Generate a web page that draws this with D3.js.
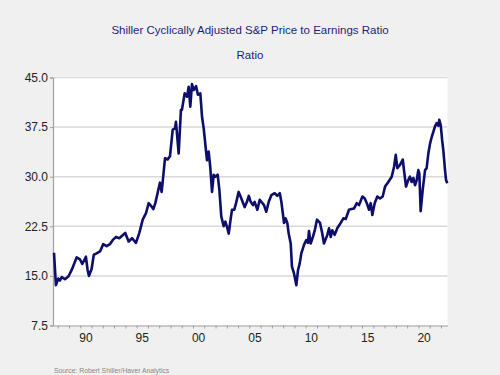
<!DOCTYPE html>
<html><head><meta charset="utf-8">
<script src="https://cdn.jsdelivr.net/npm/d3@7"></script>
<style>body{margin:0;background:#f0f0f0;}svg{display:block;font-family:"Liberation Sans",Arial,sans-serif;}</style>
</head><body><svg id="c" width="500" height="375"></svg>
<script>
const years = [1987.67,1987.84,1988.05,1988.2,1988.35,1988.64,1988.94,1989.24,1989.68,1989.97,1990.18,1990.5,1990.65,1990.77,1991.0,1991.2,1991.45,1991.75,1992.04,1992.34,1992.63,1992.87,1993.17,1993.46,1993.99,1994.29,1994.59,1994.94,1995.24,1995.54,1995.83,1996.07,1996.27,1996.48,1996.66,1996.87,1997.07,1997.22,1997.52,1997.75,1997.96,1998.2,1998.4,1998.49,1998.73,1998.93,1999.02,1999.26,1999.47,1999.62,1999.76,1999.91,2000.06,2000.27,2000.44,2000.65,2000.8,2000.95,2001.15,2001.24,2001.39,2001.53,2001.69,2001.84,2001.98,2002.19,2002.34,2002.51,2002.72,2002.87,2003.02,2003.17,2003.31,2003.46,2003.66,2003.82,2004.05,2004.29,2004.58,2004.79,2004.95,2005.12,2005.32,2005.47,2005.71,2005.92,2006.12,2006.3,2006.5,2006.72,2006.95,2007.25,2007.48,2007.7,2007.84,2008.08,2008.22,2008.37,2008.49,2008.67,2008.78,2008.96,2009.17,2009.32,2009.47,2009.61,2009.85,2010.05,2010.2,2010.29,2010.44,2010.64,2010.82,2011.0,2011.27,2011.47,2011.62,2011.92,2012.07,2012.22,2012.36,2012.57,2012.8,2013.1,2013.34,2013.55,2013.84,2014.05,2014.29,2014.53,2014.73,2015.03,2015.24,2015.42,2015.62,2015.77,2015.91,2016.12,2016.35,2016.59,2016.83,2017.04,2017.33,2017.63,2017.84,2017.99,2018.13,2018.37,2018.61,2018.72,2018.9,2019.1,2019.25,2019.4,2019.55,2019.7,2019.85,2019.99,2020.08,2020.2,2020.38,2020.59,2020.73,2020.88,2021.03,2021.18,2021.33,2021.47,2021.62,2021.77,2021.85,2021.98,2022.1,2022.21,2022.36,2022.45,2022.56];
const cape = [18.5,13.6,14.6,14.3,14.8,14.5,14.9,15.9,17.8,17.5,16.8,17.9,15.9,15.0,16.0,18.2,18.4,18.7,19.8,19.5,19.8,20.4,20.9,20.7,21.5,20.2,20.7,20.0,21.5,23.5,24.5,26.0,25.6,25.1,26.0,27.6,29.1,27.7,32.8,32.6,33.1,37.1,37.3,38.3,33.5,40.1,40.1,42.6,42.1,43.6,40.6,44.0,43.1,43.7,42.4,42.6,39.1,37.3,34.0,32.5,33.8,31.5,27.7,30.3,30.0,30.3,28.0,24.0,22.5,23.2,22.4,21.4,23.2,25.0,25.0,26.0,27.7,26.7,25.4,26.2,27.1,26.2,25.7,26.2,25.0,26.5,26.1,25.7,24.7,26.2,27.2,27.5,27.1,27.5,26.2,23.0,23.7,23.0,21.4,19.9,16.4,15.4,13.6,15.9,16.9,18.4,19.7,20.4,20.0,21.8,19.9,20.9,22.0,23.5,23.0,21.4,19.9,21.2,22.2,20.9,21.9,21.2,22.2,23.0,23.7,23.6,25.0,25.1,25.2,26.0,25.7,27.0,26.7,26.0,25.0,26.0,24.2,26.0,27.0,26.7,27.0,28.5,29.2,30.0,31.5,33.3,31.3,31.8,32.6,31.0,28.5,29.5,30.0,29.2,29.8,28.7,29.5,31.0,30.5,24.8,28.0,31.0,31.3,33.5,35.0,36.0,36.8,37.6,38.1,37.7,38.6,37.8,35.6,34.0,31.0,29.5,29.0];
const yTicks = [7.5,15.0,22.5,30.0,37.5,45.0];
const xLabelYears = [1990,1995,2000,2005,2010,2015,2020];
const xLabels = ["90","95","00","05","10","15","20"];
const title = "Shiller Cyclically Adjusted S&P Price to Earnings Ratio";
const subtitle = "Ratio";
const source = "Source:  Robert Shiller/Haver Analytics";

const svg = d3.select("#c");
const L = 53, R = 447.5, T = 77.5, B = 325.5;
const x = d3.scaleLinear().domain([1987.58, 2022.58]).range([L, R]);
const y = d3.scaleLinear().domain([7.5, 45]).range([B, T]);

svg.append("rect").attr("width",500).attr("height",375).attr("fill","#f0f0f0");
svg.append("rect").attr("x",L).attr("y",T-1.5).attr("width",R-L).attr("height",B-T+1.5).attr("fill","#ffffff");

// gridlines
svg.append("g").selectAll("line").data(yTicks.slice(1)).join("line")
  .attr("x1",L).attr("x2",R).attr("y1",d=>y(d)).attr("y2",d=>y(d))
  .attr("stroke","#d9d9d9").attr("stroke-width",1.5);

// y axis
const ya = svg.append("g").attr("transform",`translate(${L},0)`)
  .call(d3.axisLeft(y).tickValues(yTicks).tickFormat(d3.format(".1f")).tickSize(3).tickPadding(2));
ya.select(".domain").attr("stroke","#a0a0a0").attr("stroke-width",1.2);
ya.selectAll(".tick line").attr("stroke","#a0a0a0");
ya.selectAll("text").attr("font-size",12).attr("fill","#222").attr("font-family","Liberation Sans, Arial, sans-serif");

// x axis
const xa = svg.append("g").attr("transform",`translate(0,${B})`)
  .call(d3.axisBottom(x).tickValues(d3.range(1988,2023)).tickFormat("").tickSize(3).tickSizeOuter(0));
xa.select(".domain").attr("stroke","#a0a0a0").attr("stroke-width",1.2);
xa.selectAll(".tick line").attr("stroke","#a0a0a0");
svg.append("g").selectAll("text").data(xLabelYears).join("text")
  .attr("x",d=>x(d+0.5)).attr("y",B+16).attr("text-anchor","middle")
  .attr("font-size",12).attr("fill","#222").text((d,i)=>xLabels[i]);

// line
const data = years.map((t,i)=>({t, v:cape[i]}));
svg.append("path").datum(data)
  .attr("d", d3.line().x(d=>x(d.t)).y(d=>y(d.v)))
  .attr("fill","none").attr("stroke","#0d0d6b").attr("stroke-width",2.6).attr("stroke-linejoin","round");

// titles
svg.append("text").attr("x",250).attr("y",34).attr("text-anchor","middle")
  .attr("font-size",11.5).attr("fill","#1e1e78").text(title);
svg.append("text").attr("x",250).attr("y",59).attr("text-anchor","middle")
  .attr("font-size",11.5).attr("fill","#1e1e78").text(subtitle);
svg.append("text").attr("x",54).attr("y",373).attr("font-size",6.8).attr("fill","#888").text(source);
</script></body></html>
